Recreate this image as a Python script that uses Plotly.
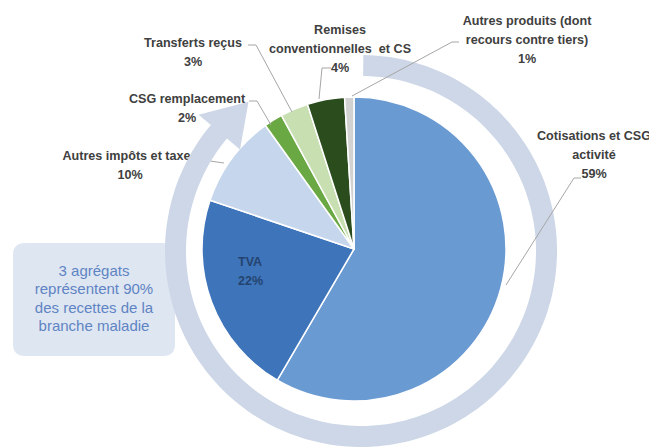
import numpy as np
import plotly.graph_objects as go

# ---------------- data ----------------
categories = ["Cotisations et CSG activité", "TVA", "Autres impôts et taxes",
              "CSG remplacement", "Transferts reçus",
              "Remises conventionnelles et CS",
              "Autres produits (dont recours contre tiers)"]
values = [59, 22, 10, 2, 3, 4, 1]
label_lines = [["Cotisations et CSG", "activité"], ["TVA"], ["Autres impôts et taxes"],
               ["CSG remplacement"], ["Transferts reçus"],
               ["Remises", "conventionnelles  et CS"],
               ["Autres produits (dont", "recours contre tiers)"]]
callout_lines = ["3 agrégats", "représentent 90%", "des recettes de la", "branche maladie"]

# ---------------- styling / layout ----------------
W, H = 657, 448
OFF = 8  # default page body margin: data coords below are screen pixels
colors = ["#6A9AD2", "#3E74BA", "#C6D6EC", "#6AA843", "#C8DFB2", "#2B4D1E", "#D2D2D2"]
pie_cx, pie_cy, pie_r = 354, 249, 152
label_pos = [(594, 137), (250, 262), (130, 157), (187, 100), (193, 44), (340, 31), (527, 22)]
line_gap = 19
leaders = [[(581, 178), (574, 178), (506, 285)], None, [(203, 160), (224, 163)],
           [(249, 101), (257, 101), (271, 125)], [(248, 45), (256, 45), (292, 112)],
           [(331, 68), (322, 68), (319, 99)], [(459, 42), (452, 42), (352, 96)]]
ring_c = (361, 251)
ring_in, ring_out = 175, 196
ring_a0, ring_a1 = 0.7, 310
head_in, head_out, head_tip_a, head_tip_r = 158, 212, 323, 187
ring_col = "#CDD7E7"
box = (13, 243, 175, 356)
box_lines_y = [272, 290.5, 309, 327.5]
label_font = dict(family="Liberation Sans", size=12.6, color="#404040", weight="bold")

fig = go.Figure()

fig.add_trace(go.Pie(
    values=values, labels=categories, sort=False, direction="clockwise", rotation=0,
    marker=dict(colors=colors, line=dict(color="white", width=1.5)),
    textinfo="none", hoverinfo="label+percent", showlegend=False,
    domain=dict(x=[(pie_cx - pie_r - OFF) / W, (pie_cx + pie_r - OFF) / W],
                y=[1 - (pie_cy + pie_r - OFF) / H, 1 - (pie_cy - pie_r - OFF) / H])))

# outer labels (built from data)
tx, ty, tt = [], [], []
for i, (name_lines, v) in enumerate(zip(label_lines, values)):
    if i == 1:
        continue
    x0, y0 = label_pos[i]
    for k, s in enumerate(name_lines + [f"{v}%"]):
        tx.append(x0); ty.append(y0 + k * line_gap); tt.append(s)
fig.add_trace(go.Scatter(x=tx, y=ty, text=tt, mode="text", hoverinfo="skip",
                         textposition="middle center", showlegend=False, cliponaxis=False,
                         textfont=label_font))

# callout box text
fig.add_trace(go.Scatter(x=[(box[0] + box[2]) / 2] * len(callout_lines), y=box_lines_y,
                         text=callout_lines, mode="text", hoverinfo="skip",
                         textposition="middle center", showlegend=False,
                         textfont=dict(family="Liberation Sans", size=15, color="#5F84C3")))

# TVA label inside the slice
for k, s in enumerate(label_lines[1] + [f"{values[1]}%"]):
    fig.add_annotation(x=label_pos[1][0], y=label_pos[1][1] + k * line_gap, xref="x", yref="y",
                       text=s, showarrow=False,
                       font=dict(family="Liberation Sans", size=12.5, color="#24446F", weight="bold"))

# ---------------- shapes ----------------
def pt(c, r, a):
    a = np.radians(a)
    return c[0] + r * np.sin(a), c[1] - r * np.cos(a)

shapes = []
bx0, by0, bx1, by1 = box
rr = 12
shapes.append(dict(type="path", xref="x", yref="y", layer="below",
                   path=(f"M{bx0+rr},{by0} L{bx1-rr},{by0} Q{bx1},{by0} {bx1},{by0+rr} "
                         f"L{bx1},{by1-rr} Q{bx1},{by1} {bx1-rr},{by1} L{bx0+rr},{by1} "
                         f"Q{bx0},{by1} {bx0},{by1-rr} L{bx0},{by0+rr} Q{bx0},{by0} {bx0+rr},{by0} Z"),
                   fillcolor="#DEE6F2", line=dict(width=0)))

def leader_shape(pts):
    p = "M" + " L".join(f"{x},{y}" for x, y in pts)
    return dict(type="path", xref="x", yref="y", layer="above", path=p,
                line=dict(color="#A6A6A6", width=1))

shapes.append(leader_shape(leaders[2]))

angs = np.linspace(ring_a0, ring_a1, 200)
outer = [pt(ring_c, ring_out, a) for a in angs]
inner = [pt(ring_c, ring_in, a) for a in angs[::-1]]
head = [pt(ring_c, head_out, ring_a1), pt(ring_c, head_tip_r, head_tip_a), pt(ring_c, head_in, ring_a1)]
allp = outer + head + inner
ring_path = "M" + " L".join(f"{x:.1f},{y:.1f}" for x, y in allp) + " Z"
shapes.append(dict(type="path", xref="x", yref="y", layer="above", path=ring_path,
                   fillcolor=ring_col, line=dict(width=0)))

for i, ld in enumerate(leaders):
    if ld is None or i == 2:
        continue
    shapes.append(leader_shape(ld))

fig.update_layout(
    width=W, height=H, margin=dict(l=0, r=0, t=0, b=0),
    paper_bgcolor="white", plot_bgcolor="white", shapes=shapes, showlegend=False,
    xaxis=dict(range=[OFF, W + OFF], visible=False, fixedrange=True),
    yaxis=dict(range=[H + OFF, OFF], visible=False, fixedrange=True),
)

fig.write_html("out.html")
